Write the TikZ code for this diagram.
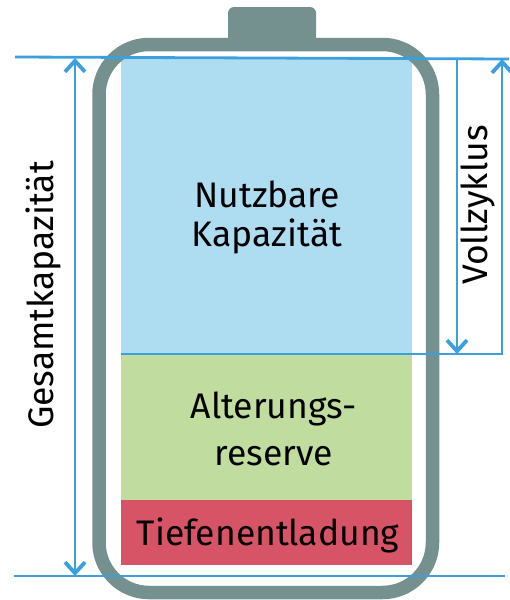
\documentclass[tikz,border=0pt]{standalone}
\usepackage{fontspec}
\setmainfont{Fira Sans}
\usetikzlibrary{arrows.meta}
\definecolor{wall}{HTML}{74918F}
\definecolor{blu}{HTML}{AEDDF1}
\definecolor{grn}{HTML}{C0DC9F}
\definecolor{rd}{HTML}{D75467}
\definecolor{ln}{HTML}{3BA0DD}
\tikzset{
  dimline/.style={draw=ln, line width=2.8pt},
  tipb/.tip={Straight Barb[length=11pt,width=20pt,line width=3.8pt]},
  lbl/.style={inner sep=0pt, anchor=base, font=\fontsize{35.5}{42}\selectfont},
}
\begin{document}
\begin{tikzpicture}[x=1pt,y=-1pt]
\useasboundingbox (0,0) rectangle (509,600);
% fills
\fill[blu] (121,58) rectangle (412,354);
\fill[grn] (121,354) rectangle (412,500);
\fill[rd] (121,500) rectangle (412,565);
% battery
\fill[wall, rounded corners=6pt] (228,46) -- (228,7) -- (316,7) -- (316,46) -- cycle;
\draw[wall, line width=13.5pt, rounded corners=50pt] (99,44.5) rectangle (432.5,592.5);
% coordinates
\coordinate (TL) at (15,57);
\coordinate (TR) at (509,59);
\coordinate (BL) at (14,576);
\coordinate (BR) at (505,576);
\coordinate (GA) at (75,58);
\coordinate (GB) at (75,576);
\coordinate (M1) at (121,354);
\coordinate (M2) at (502,354);
\coordinate (M3) at (502,59);
\coordinate (VA) at (457,58.5);
\coordinate (VB) at (457,354);
% lines
\draw[dimline] (TL) -- (TR);
\draw[dimline] (BL) -- (BR);
\draw[dimline, -tipb] (M1) -- (M2) -- (M3);
\draw[dimline, tipb-tipb] (GA) -- (GB);
\draw[dimline, -tipb] (VA) -- (VB);
% labels
\node[lbl] (n1) at (267,207) {Nutzbare};
\node[lbl] (n2) at (267,246) {Kapazität};
\node[lbl] (a1) at (274,418) {Alterungs-};
\node[lbl] (a2) at (274,465) {reserve};
\node[lbl] (t1) at (268,545) {Tiefenentladung};
\node[lbl, rotate=90] (g1) at (53,295) {Gesamtkapazität};
\node[lbl, rotate=90] (v1) at (487,205) {Vollzyklus};
\end{tikzpicture}
\end{document}
